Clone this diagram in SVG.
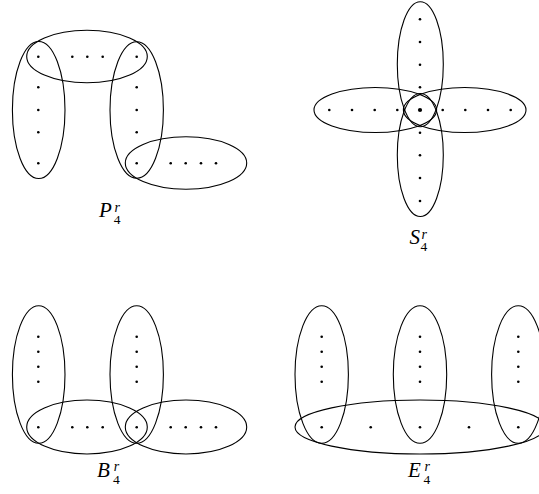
<svg xmlns="http://www.w3.org/2000/svg" width="539" height="494" viewBox="0 0 539 494">
<style>
.e{fill:none;stroke:#000;stroke-width:1.1}
.d{fill:#000}
.lbl{font-family:"Liberation Serif","Times New Roman",serif;font-style:italic;fill:#000;font-size:21px}
.sup{font-family:"Liberation Serif","Times New Roman",serif;font-style:italic;fill:#000;font-size:14px}
.sub{font-family:"Liberation Serif","Times New Roman",serif;fill:#000;font-size:13.5px}
</style>
<defs><circle id="dot" r="1.3" class="d"/></defs>
<rect width="539" height="494" fill="#fff"/>
<g id="P4">
<ellipse class="e" cx="38.7" cy="110" rx="26.3" ry="68.5"/>
<ellipse class="e" cx="87" cy="56.5" rx="60.3" ry="26.3"/>
<ellipse class="e" cx="136.7" cy="110" rx="26.7" ry="68.3"/>
<ellipse class="e" cx="186" cy="163" rx="60.7" ry="26.3"/>
<g>
<use href="#dot" x="38.3" y="56.7"/><use href="#dot" x="38.3" y="87.3"/><use href="#dot" x="38.3" y="110"/><use href="#dot" x="38.3" y="132.3"/><use href="#dot" x="38.3" y="163.3"/>
<use href="#dot" x="72.3" y="56.7"/><use href="#dot" x="87.3" y="56.7"/><use href="#dot" x="102.7" y="56.7"/>
<use href="#dot" x="136.7" y="56.7"/><use href="#dot" x="136.7" y="87.3"/><use href="#dot" x="136.7" y="110"/><use href="#dot" x="136.7" y="132.3"/><use href="#dot" x="136.7" y="163.3"/>
<use href="#dot" x="170.7" y="163.3"/><use href="#dot" x="185.7" y="163.3"/><use href="#dot" x="201" y="163.3"/><use href="#dot" x="216" y="163.3"/>
</g>
<text x="99" y="217.3" class="lbl">P</text>
<text x="114.5" y="212" class="sup">r</text>
<text x="113.7" y="224.3" class="sub">4</text>
</g>
<g id="S4">
<ellipse class="e" cx="420.3" cy="64.2" rx="23" ry="62.5"/>
<ellipse class="e" cx="420.3" cy="155" rx="23" ry="61.5"/>
<ellipse class="e" cx="375.3" cy="110" rx="61.3" ry="22.5"/>
<ellipse class="e" cx="464.7" cy="110" rx="61.3" ry="22.5"/>
<g>
<use href="#dot" x="420" y="19.3"/><use href="#dot" x="420" y="42"/><use href="#dot" x="420" y="64.7"/><use href="#dot" x="420" y="87.3"/>
<use href="#dot" x="420" y="132.7"/><use href="#dot" x="420" y="155.3"/><use href="#dot" x="420" y="178"/><use href="#dot" x="420" y="201"/>
<use href="#dot" x="329.3" y="110"/><use href="#dot" x="352" y="110"/><use href="#dot" x="374.7" y="110"/><use href="#dot" x="397.3" y="110"/>
<use href="#dot" x="442.7" y="110"/><use href="#dot" x="465.3" y="110"/><use href="#dot" x="488" y="110"/><use href="#dot" x="510.7" y="110"/>
<circle cx="420" cy="110" r="2.1" class="d"/>
</g>
<text x="409.5" y="244.3" class="lbl">S</text>
<text x="421.5" y="239" class="sup">r</text>
<text x="420.5" y="251.3" class="sub">4</text>
</g>
<g id="B4">
<ellipse class="e" cx="38.7" cy="374.5" rx="26.3" ry="68.8"/>
<ellipse class="e" cx="136.7" cy="374.5" rx="26.7" ry="68.8"/>
<ellipse class="e" cx="87" cy="427" rx="60.3" ry="27"/>
<ellipse class="e" cx="186" cy="427" rx="60.7" ry="27"/>
<g>
<use href="#dot" x="38.3" y="336.7"/><use href="#dot" x="38.3" y="351.7"/><use href="#dot" x="38.3" y="366.7"/><use href="#dot" x="38.3" y="381.7"/><use href="#dot" x="38.3" y="427.3"/>
<use href="#dot" x="72.3" y="427.3"/><use href="#dot" x="87.3" y="427.3"/><use href="#dot" x="102.7" y="427.3"/>
<use href="#dot" x="136.7" y="336.7"/><use href="#dot" x="136.7" y="351.7"/><use href="#dot" x="136.7" y="366.7"/><use href="#dot" x="136.7" y="381.7"/><use href="#dot" x="136.7" y="427.3"/>
<use href="#dot" x="170.7" y="427.3"/><use href="#dot" x="185.7" y="427.3"/><use href="#dot" x="201" y="427.3"/><use href="#dot" x="216" y="427.3"/>
</g>
<text x="97" y="476.7" class="lbl">B</text>
<text x="113.7" y="471.4" class="sup">r</text>
<text x="113" y="483.7" class="sub">4</text>
</g>
<g id="E4">
<ellipse class="e" cx="321.7" cy="374.5" rx="26.7" ry="68.8"/>
<ellipse class="e" cx="420" cy="374.5" rx="26.7" ry="68.8"/>
<ellipse class="e" cx="518.3" cy="374.5" rx="26.7" ry="68.8"/>
<ellipse class="e" cx="420" cy="427" rx="125" ry="27"/>
<g>
<use href="#dot" x="321.7" y="336.7"/><use href="#dot" x="321.7" y="351.7"/><use href="#dot" x="321.7" y="366.7"/><use href="#dot" x="321.7" y="381.7"/><use href="#dot" x="321.7" y="427.3"/>
<use href="#dot" x="420" y="336.7"/><use href="#dot" x="420" y="351.7"/><use href="#dot" x="420" y="366.7"/><use href="#dot" x="420" y="381.7"/><use href="#dot" x="420" y="427.3"/>
<use href="#dot" x="518.3" y="336.7"/><use href="#dot" x="518.3" y="351.7"/><use href="#dot" x="518.3" y="366.7"/><use href="#dot" x="518.3" y="381.7"/><use href="#dot" x="518.3" y="427.3"/>
<use href="#dot" x="370.7" y="427.3"/><use href="#dot" x="469" y="427.3"/>
</g>
<text x="408" y="476.7" class="lbl">E</text>
<text x="424.5" y="471.4" class="sup">r</text>
<text x="423.5" y="483.7" class="sub">4</text>
</g>
<g id="connectors"/>
</svg>
